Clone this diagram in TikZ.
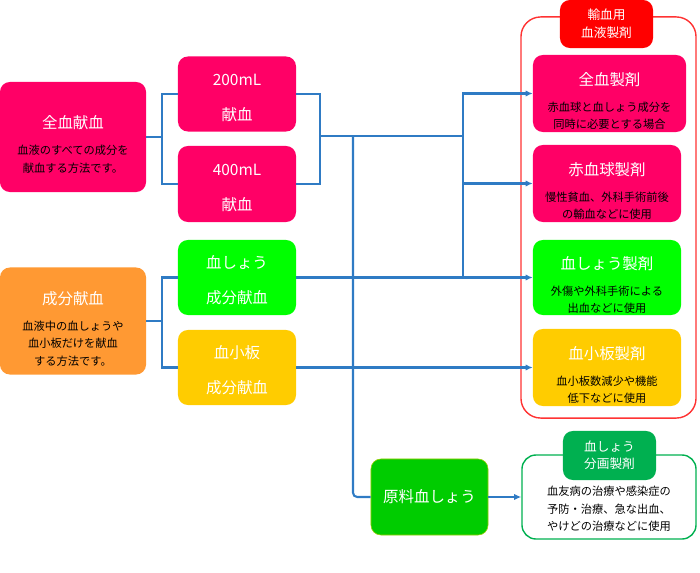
\documentclass[tikz,border=0pt]{standalone}
\usepackage{fontspec}
\setmainfont{Noto Sans CJK JP}
\usepackage{xcolor}
\usepackage{tikz}
\usetikzlibrary{arrows.meta}

\definecolor{kpink}{HTML}{FF0066}
\definecolor{korange}{HTML}{FF9933}
\definecolor{klime}{HTML}{00FF00}
\definecolor{kyellow}{HTML}{FFCC00}
\definecolor{kred}{HTML}{FF0000}
\definecolor{kframe}{HTML}{FF3333}
\definecolor{kgreen}{HTML}{00CC00}
\definecolor{kdgreen}{HTML}{00B050}
\definecolor{kline}{HTML}{2F7BC4}

\newcommand{\boxttl}{\fontsize{11}{13}\selectfont\color{white}}
\newcommand{\boxdsc}{\fontsize{8}{12.5}\selectfont\color{black}}
\newcommand{\boxhd}[1]{{\boxttl\rule{0pt}{20pt}#1}}
\newcommand{\boxup}{\rule{0pt}{13.5pt}}

\tikzset{
	bbox/.style={rounded corners=7pt, inner sep=0pt, align=center, font=\boxdsc},
	conn/.style={color=kline, line width=1.5pt},
	arr/.style={conn, -{Latex[length=5pt,width=4.5pt]}},
}

\begin{document}
\begin{tikzpicture}[x=0.025cm, y=-0.025cm]
		\useasboundingbox (0,0) rectangle (700,573);
		% left
		\node[bbox, fill=kpink, minimum width=3.65cm, minimum height=2.75cm] (zenketsu) at (73,137) {\boxhd{全血献血}\\[6pt]血液のすべての成分を\\献血する方法です。};
		\node[bbox, fill=korange, minimum width=3.65cm, minimum height=2.675cm] (seibun) at (73,321) {\boxhd{成分献血}\\[6pt]血液中の血しょうや\\血小板だけを献血\\する方法です。};
		% middle
		\node[bbox, fill=kpink, minimum width=2.95cm, minimum height=1.875cm, font=\boxttl] (ml200) at (237,94) {\boxup 200mL\\[12pt]献血};
		\node[bbox, fill=kpink, minimum width=2.95cm, minimum height=1.9cm, font=\boxttl] (ml400) at (237,184) {\boxup 400mL\\[12pt]献血};
		\node[bbox, fill=klime, minimum width=2.95cm, minimum height=1.875cm, font=\boxttl] (plasma) at (237,277.5) {\boxup 血しょう\\[12pt]成分献血};
		\node[bbox, fill=kyellow, minimum width=2.95cm, minimum height=1.875cm, font=\boxttl] (platelet) at (237,367.5) {\boxup 血小板\\[12pt]成分献血};
		% right
		\node[draw=kframe, line width=1pt, rounded corners=14pt, minimum width=4.375cm, minimum height=10.025cm] (yuketsu) at (608.5,217.5) {};
		\node[bbox, fill=kred, minimum width=2.325cm, minimum height=1.2cm, font=\fontsize{9}{12.8}\selectfont\color{white}] (yuketsuLbl) at (606.5,24) {輸血用\\血液製剤};
		\node[bbox, fill=kpink, minimum width=3.825cm, minimum height=1.925cm] (zenketsuSei) at (609.5,93.5) {\boxhd{全血製剤}\\[6pt]赤血球と血しょう成分を\\同時に必要とする場合};
		\node[bbox, fill=kpink, minimum width=3.7cm, minimum height=1.925cm] (sekkekkyu) at (607,183.5) {\boxhd{赤血球製剤}\\[6pt]慢性貧血、外科手術前後\\の輸血などに使用};
		\node[bbox, fill=klime, minimum width=3.7cm, minimum height=1.875cm] (plasmaSei) at (607,277.5) {\boxhd{血しょう製剤}\\[6pt]外傷や外科手術による\\出血などに使用};
		\node[bbox, fill=kyellow, minimum width=3.7cm, minimum height=1.925cm] (plateletSei) at (607,367.5) {\boxhd{血小板製剤}\\[6pt]血小板数減少や機能\\低下などに使用};
		% bottom
		\node[bbox, fill=kgreen, draw=kyellow!60!kgreen, minimum width=2.925cm, minimum height=1.9cm, font=\boxttl] (genryo) at (429.5,497) {原料血しょう};
		\node[draw=kdgreen, line width=1pt, rounded corners=10pt, minimum width=4.35cm, minimum height=2.1cm] (bunkaku) at (609,497) {};
		\node[bbox, fill=kdgreen, minimum width=2.325cm, minimum height=1.225cm, font=\fontsize{9}{12}\selectfont\color{white}] (bunkakuLbl) at (609.5,455.5) {血しょう\\分画製剤};
		\node[align=center, font=\boxdsc] (bunkakuTxt) at (609,509) {血友病の治療や感染症の\\予防・治療、急な出血、\\やけどの治療などに使用};
		% connectors
		\coordinate (j1) at (162,137);
		\coordinate (j2) at (320,136);
		\coordinate (j3) at (463,136);
		\coordinate (j4) at (463,277.5);
		\coordinate (j5) at (162,321);
		\coordinate (j6) at (353,136);
		\draw[conn] (zenketsu.east) -- (j1);
		\draw[conn] (ml200.west) -| (j1) |- (ml400.west);
		\draw[conn] (ml200.east) -| (j2) |- (ml400.east);
		\draw[conn] (j2) -- (j3) -- (j4);
		\draw[arr] (j3) |- (zenketsuSei.west);
		\draw[arr] (j3) |- (sekkekkyu.west);
		\draw[conn] (seibun.east) -- (j5);
		\draw[conn] (plasma.west) -| (j5) |- (platelet.west);
		\draw[arr] (plasma.east) -- (plasmaSei.west);
		\draw[arr] (platelet.east) -- (plateletSei.west);
		\draw[conn, rounded corners=3pt] (j6) |- (genryo.west);
		\draw[arr] (genryo.east) -- (bunkaku.west);
		\end{tikzpicture}
\end{document}
